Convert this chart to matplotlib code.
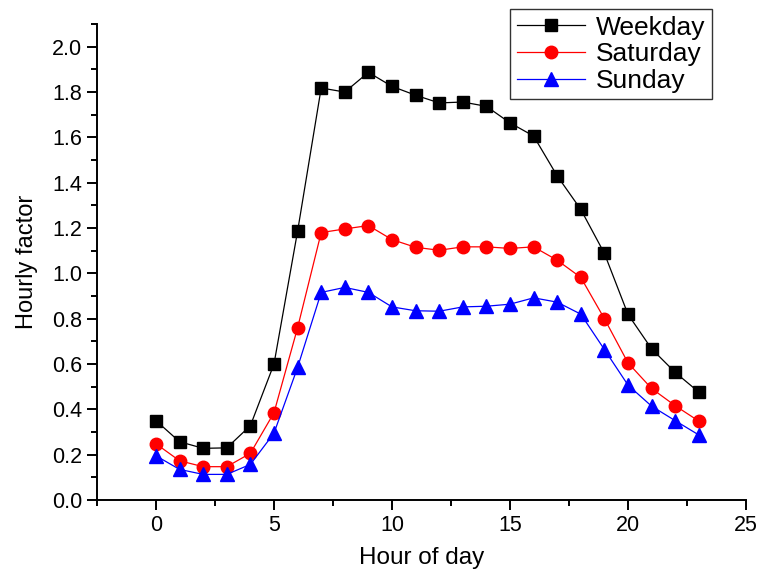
import numpy as np
import matplotlib
matplotlib.use('Agg')
import matplotlib.pyplot as plt
from matplotlib.ticker import MultipleLocator

plt.rcParams['font.family'] = ['Liberation Sans', 'DejaVu Sans']

# hourly factors
hours = list(range(24))
weekday = [0.35, 0.257, 0.228, 0.23, 0.328, 0.60, 1.186, 1.818, 1.80, 1.887,
           1.825, 1.786, 1.752, 1.756, 1.737, 1.664, 1.606, 1.43, 1.282, 1.088,
           0.819, 0.667, 0.563, 0.476]
saturday = [0.248, 0.173, 0.147, 0.147, 0.206, 0.385, 0.76, 1.18, 1.196, 1.211,
            1.149, 1.115, 1.102, 1.117, 1.117, 1.11, 1.117, 1.058, 0.982, 0.80,
            0.605, 0.492, 0.416, 0.348]
sunday = [0.195, 0.135, 0.113, 0.113, 0.157, 0.295, 0.585, 0.916, 0.938, 0.916,
          0.852, 0.835, 0.833, 0.852, 0.855, 0.864, 0.892, 0.873, 0.82, 0.664,
          0.507, 0.414, 0.35, 0.287]

fig = plt.figure(figsize=(7.6, 5.73), dpi=100)
ax = fig.add_axes([0.1276, 0.1274, 0.854, 0.8306])

ax.plot(hours, weekday, color='black', lw=0.9, marker='s', ms=8, label='Weekday')
ax.plot(hours, saturday, color='red', lw=0.9, marker='o', ms=9, label='Saturday')
ax.plot(hours, sunday, color='blue', lw=0.9, marker='^', ms=9.5, label='Sunday')

ax.set_xlim(-2.5, 25)
ax.set_ylim(0, 2.1)
ax.xaxis.set_major_locator(MultipleLocator(5))
ax.xaxis.set_minor_locator(MultipleLocator(2.5))
ax.yaxis.set_major_locator(MultipleLocator(0.2))
ax.yaxis.set_minor_locator(MultipleLocator(0.1))
ax.yaxis.set_major_formatter(matplotlib.ticker.FormatStrFormatter('%.1f'))

ax.spines['top'].set_visible(False)
ax.spines['right'].set_visible(False)
for s in ['left', 'bottom']:
    ax.spines[s].set_linewidth(1.4)
ax.tick_params(which='major', direction='out', length=7.5, width=1.4,
               labelsize=15.5, pad=3)
ax.tick_params(which='minor', direction='out', length=4.5, width=1.4)

ax.set_xlabel('Hour of day', fontsize=17.5, labelpad=8.5)
ax.set_ylabel('Hourly factor', fontsize=17, labelpad=10)

leg = ax.legend(loc='upper right', bbox_to_anchor=(712 / 760, 1 - 9 / 573),
                bbox_transform=fig.transFigure, fontsize=19, frameon=True,
                fancybox=False, edgecolor='black', handlelength=2.6,
                borderpad=0.25, labelspacing=0.1, handletextpad=0.4,
                borderaxespad=0)
leg.get_frame().set_linewidth(1.0)

fig.savefig('out.png', dpi=100)
